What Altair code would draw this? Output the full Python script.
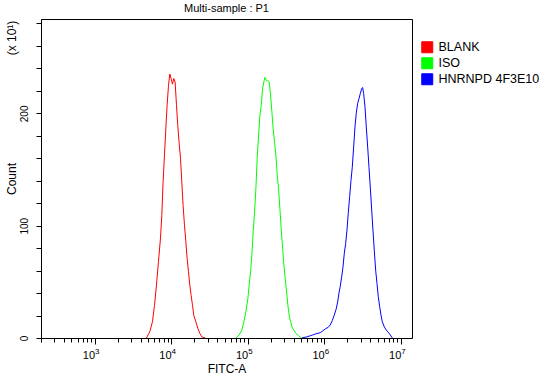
import altair as alt
import pandas as pd

FONT = "Liberation Sans"

names = ["BLANK", "ISO", "HNRNPD 4F3E10"]
colors = ["#FF0000", "#00FF00", "#0000FF"]

blank_x = [4770, 5270, 5710, 6070, 6440, 6840, 7270, 7560, 7860, 8200, 8530, 8870, 9250,
           9620, 10000, 10430, 10850, 11280, 11770, 12230, 12720, 13270, 13800, 14350,
           14970, 15570, 16190, 16880, 17560, 18260, 19050, 19810, 21030, 22340, 23720,
           25200, 27830]
blank_y = [0, 5.6, 14.5, 29, 47, 68, 89, 109, 139, 163, 186, 207, 225, 235, 231, 226, 231,
           228, 207, 189, 174, 160, 139, 118, 100, 86, 71, 59, 47, 38, 29, 20, 14.5, 8.6,
           4, 1, 0]

iso_x = [70150, 77420, 84000, 89190, 94740, 100600, 104600, 109100, 113500, 118000,
         123100, 128000, 133100, 138800, 144400, 150200, 156600, 162800, 167800, 176700,
         183700, 191000, 199300, 207300, 215400, 224700, 233700, 243000, 253400, 263600,
         274100, 285900, 297300, 309200, 322500, 335400, 348700, 363800, 378200, 401800,
         426700, 462900, 500400]
iso_y = [0, 2.7, 7, 14.5, 23, 35, 47, 59, 74, 94.5, 112, 133, 160, 180, 198, 207, 222, 228,
         232, 229, 229, 228, 216, 201, 186, 174, 163, 145, 133, 115, 97.5, 80, 65, 53, 41,
         29, 20, 14.5, 10, 7, 4, 2, 0]

hn_x = [506500, 594000, 656200, 726700, 802600, 886600, 961700, 1043000, 1128000,
        1198000, 1272000, 1351000, 1435000, 1497000, 1557000, 1619000, 1689000, 1756000,
        1826000, 1904000, 1981000, 2059000, 2148000, 2234000, 2323000, 2423000, 2520000,
        2620000, 2733000, 2842000, 2955000, 3082000, 3177000, 3273000, 3404000, 3540000,
        3693000, 3840000, 3993000, 4165000, 4331000, 4504000, 4698000, 4885000, 5080000,
        5299000, 5510000, 5730000, 6085000, 6463000, 6865000, 7291000, 7744000]
hn_y = [0, 1, 2, 3, 4, 4.7, 6.5, 8.3, 9.5, 11.6, 15.4, 20.4, 26, 32, 40, 46, 54.5, 63, 75,
        84, 96, 111, 126, 140, 152, 170, 188, 200, 209, 213, 217.5, 222, 223, 217.5, 206,
        188, 170, 152, 134.5, 114, 96, 78, 60, 48.6, 36.7, 27.8, 20.4, 14.5, 10, 7, 5,
        2.7, 0]

major_ticks = [1e3, 1e4, 1e5, 1e6, 1e7]
major_exponents = ["3", "4", "5", "6", "7"]
minor_ticks = [m * 10 ** e for e in range(2, 7) for m in range(2, 10)]
y_ticks = list(range(0, 281, 20))
y_labels = [0, 100, 200]

rows = []
for nm, xs, ys in zip(names, [blank_x, iso_x, hn_x], [blank_y, iso_y, hn_y]):
    for i, (a, b) in enumerate(zip(xs, ys)):
        rows.append({"sample": nm, "fitc": a, "count": b, "order": i})
df = pd.DataFrame(rows)

exp_expr = "'\u2009' + {" + ",".join(f"'{int(v)}':'{l}'" for v, l in zip(major_ticks, major_exponents)) + "}[toString(datum.value)]"
ylab_expr = "indexof([" + ",".join(str(v) for v in y_labels) + "], datum.value) >= 0 ? datum.label : ''"

xscale = alt.Scale(type="log", domain=[200, 14000000], nice=False)
yscale = alt.Scale(domain=[0, 284], nice=False, zero=True)
cscale = alt.Scale(domain=names, range=colors)

legend = alt.Legend(orient="none", legendX=380, legendY=22, title=None,
                    symbolType="square", symbolSize=121,
                    symbolStrokeColor="black", symbolStrokeWidth=1,
                    symbolOpacity=1, labelFont=FONT, labelFontSize=12.5,
                    labelColor="black", rowPadding=0, padding=0, labelOffset=5)

common = dict(grid=False, tickColor="black", domainColor="black", labelColor="black")

legend_layer = alt.Chart(pd.DataFrame({"sample": names})).mark_square(
    filled=True, opacity=0, size=1
).encode(
    x=alt.value(0), y=alt.value(0),
    color=alt.Color("sample:N", scale=cscale, legend=legend),
)

lines = alt.Chart(df).mark_line(strokeWidth=1, clip=True).encode(
    x=alt.X("fitc:Q", scale=xscale,
            axis=alt.Axis(values=major_ticks, labelExpr="'10'", tickSize=6,
                          orient="bottom", domain=True, labelFont=FONT,
                          labelFontSize=11, labelPadding=5, labelAlign="right",
                          title="FITC-A", titleFont=FONT, titleFontSize=12,
                          titleFontWeight="normal", titleColor="black", titlePadding=3,
                          **common)),
    y=alt.Y("count:Q", scale=yscale,
            axis=alt.Axis(values=y_ticks, labelExpr=ylab_expr, orient="left",
                          tickSize=5, domain=True, labelAngle=270,
                          labelAlign="center", labelBaseline="bottom", labelPadding=7,
                          labelFont=FONT, labelFontSize=10, title="Count",
                          titleFont=FONT, titleFontSize=12, titleFontWeight="normal",
                          titleColor="black", titlePadding=1, **common)),
    color=alt.Color("sample:N", scale=cscale, legend=legend),
    order="order:Q",
)

minor = alt.Chart(pd.DataFrame({"fitc": minor_ticks})).mark_rule(opacity=0).encode(
    x=alt.X("fitc:Q", scale=xscale,
            axis=alt.Axis(values=minor_ticks, labels=False, tickSize=4, orient="bottom",
                          domain=False, title=None, **common)),
)

exps = alt.Chart(pd.DataFrame({"fitc": major_ticks})).mark_rule(opacity=0).encode(
    x=alt.X("fitc:Q", scale=xscale,
            axis=alt.Axis(values=major_ticks, labelExpr=exp_expr, ticks=False,
                          orient="bottom", domain=False, title=None, labelFont=FONT,
                          labelFontSize=8, labelPadding=9, labelAlign="left",
                          **common)),
)

top = alt.Chart(pd.DataFrame({"fitc": major_ticks})).mark_rule(opacity=0).encode(
    x=alt.X("fitc:Q", scale=xscale,
            axis=alt.Axis(orient="top", ticks=False, labels=False, domain=True,
                          title=None, **common)),
)

right = alt.Chart(pd.DataFrame({"count": y_labels})).mark_rule(opacity=0).encode(
    y=alt.Y("count:Q", scale=yscale,
            axis=alt.Axis(orient="right", ticks=False, labels=False, domain=True,
                          title=None, **common)),
)

note = alt.Chart(pd.DataFrame({"t": ["(x 10¹)"]})).mark_text(
    angle=270, font=FONT, fontSize=12, color="black", align="center", baseline="middle"
).encode(text="t:N", x=alt.value(-29), y=alt.value(19))

chart = alt.layer(legend_layer, lines, minor, exps, top, right, note).resolve_axis(
    x="independent", y="independent"
).properties(
    width=371, height=319,
    title=alt.TitleParams("Multi-sample : P1", font=FONT, fontSize=11,
                          fontWeight="normal", color="black", anchor="middle", offset=5),
    autosize=alt.AutoSizeParams(type="none"),
    padding={"left": 41, "top": 19, "right": 136, "bottom": 39},
).configure_view(stroke=None).configure(background="white")

chart.save("out.html", embed_options={"renderer": "svg", "actions": False})
